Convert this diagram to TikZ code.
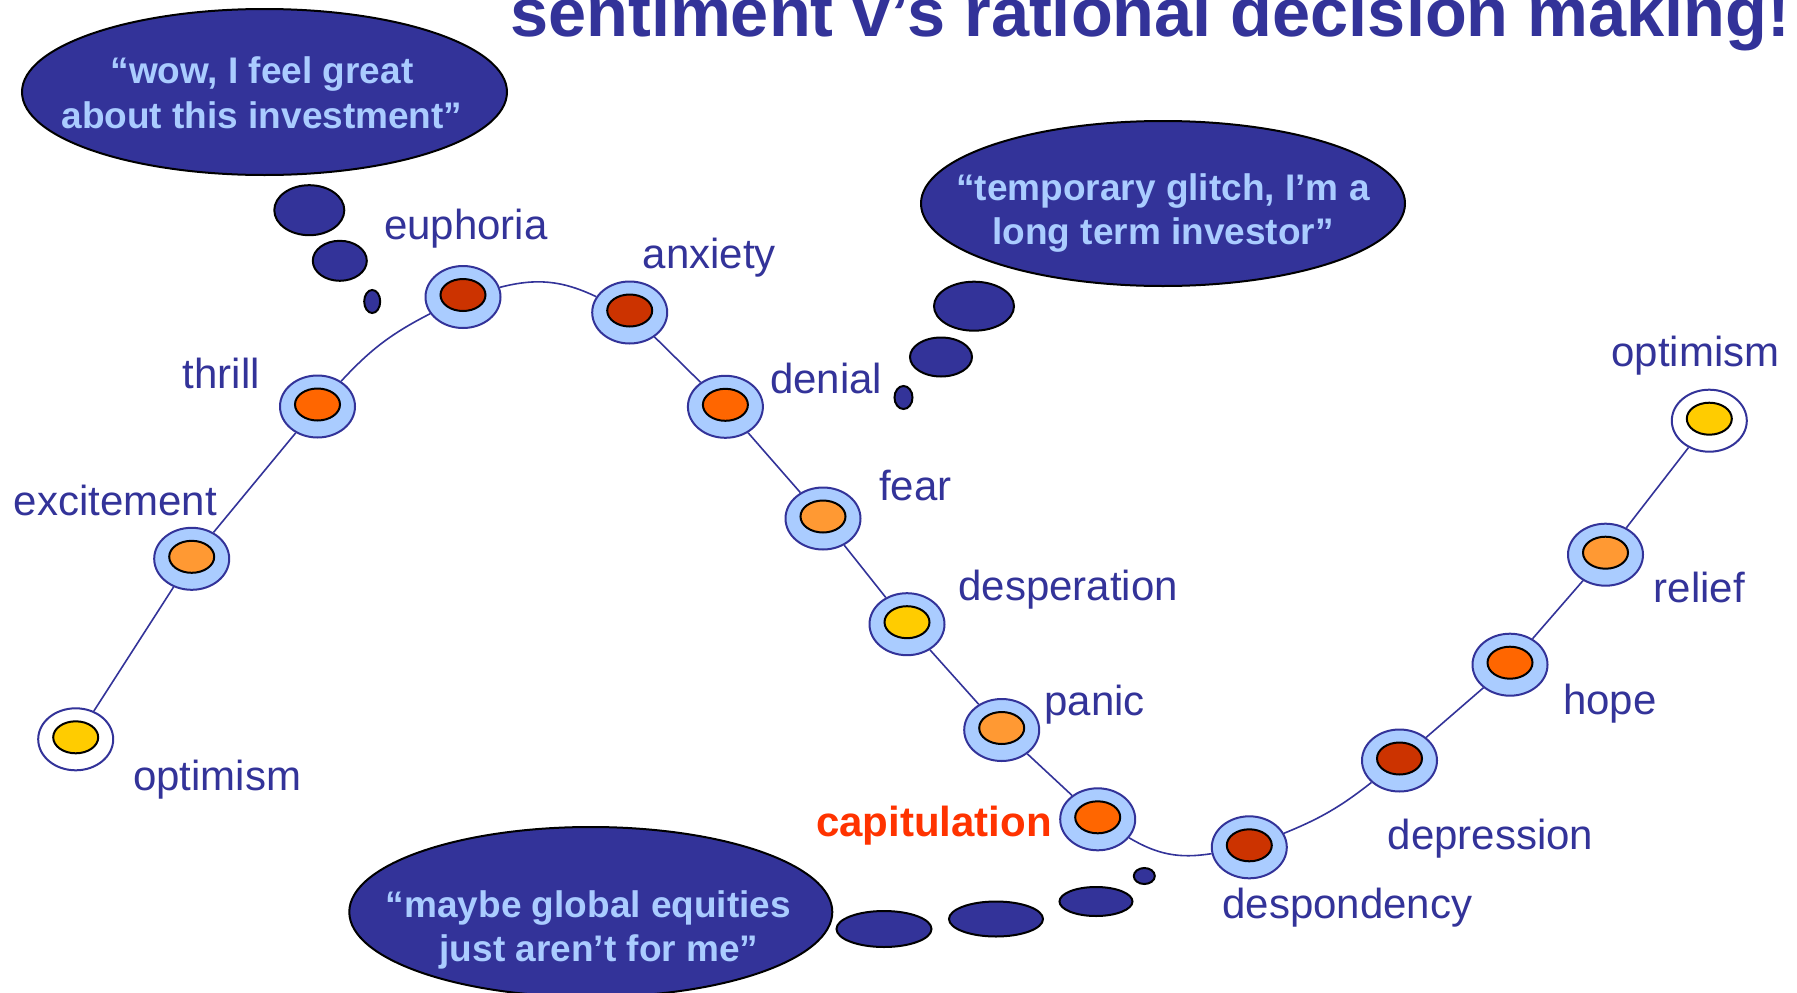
\documentclass[tikz,border=0pt]{standalone}
\usepackage{fontspec}
\setmainfont{Liberation Sans}
\usetikzlibrary{shapes.geometric}
\definecolor{navy}{HTML}{333399}
\definecolor{pale}{HTML}{AACCFF}
\definecolor{cdark}{HTML}{CC3300}
\definecolor{corange}{HTML}{FF6600}
\definecolor{clight}{HTML}{FF9933}
\definecolor{cyellow}{HTML}{FFCC00}
\definecolor{capred}{HTML}{FF3300}
\begin{document}
\begin{tikzpicture}[x=1pt,y=-1pt,
  outer/.style={ellipse, draw=navy, line width=2pt, fill=pale, minimum width=75pt, minimum height=62pt, inner sep=0pt},
  outerw/.style={outer, fill=white},
  core/.style={ellipse, draw=black, line width=2pt, minimum width=45pt, minimum height=32pt, inner sep=0pt},
  link/.style={draw=navy, line width=1.6pt},
  lab/.style={anchor=base west, inner sep=0pt, text=navy, font=\fontsize{42}{50}\selectfont},
  bubble/.style={ellipse, draw=black, line width=2pt, fill=navy, inner sep=0pt},
  say/.style={anchor=base, inner sep=0pt, text=pale, font=\fontsize{37}{44}\selectfont\bfseries},
]
\useasboundingbox[fill=white] (0,0) rectangle (1797,993);

% title
\node[anchor=base west, inner sep=0pt, text=navy, font=\fontsize{68.5}{80}\selectfont\bfseries] (title) at (510,36) {sentiment v’s rational decision making!};

% thought bubbles
\node[bubble, minimum width=485pt, minimum height=166pt] (b1) at (264.5,92) {};
\node[bubble, minimum width=70pt, minimum height=50pt] (b1a) at (309.3,210.2) {};
\node[bubble, minimum width=54pt, minimum height=40pt] (b1b) at (339.8,260.8) {};
\node[bubble, minimum width=16pt, minimum height=23pt] (b1c) at (372.2,301.5) {};
\node[say] (t1a) at (262,83.5) {“wow, I feel great};
\node[say] (t1b) at (262,128.5) {about this investment”};

\node[bubble, minimum width=484pt, minimum height=165pt] (b2) at (1163,203.5) {};
\node[bubble, minimum width=80pt, minimum height=49pt] (b2a) at (974,306.2) {};
\node[bubble, minimum width=62pt, minimum height=39pt] (b2b) at (941,357) {};
\node[bubble, minimum width=18pt, minimum height=23pt] (b2c) at (903.5,397.5) {};
\node[say] (t2a) at (1163,200.5) {“temporary glitch, I’m a};
\node[say] (t2b) at (1163,244) {long term investor”};

\node[bubble, minimum width=483pt, minimum height=170pt] (b3) at (590.8,912) {};
\node[bubble, minimum width=95pt, minimum height=36pt] (b3a) at (884,929) {};
\node[bubble, minimum width=94pt, minimum height=35pt] (b3b) at (996,919) {};
\node[bubble, minimum width=73pt, minimum height=29pt] (b3c) at (1096,901.5) {};
\node[bubble, minimum width=21pt, minimum height=16pt] (b3d) at (1144.3,876) {};
\node[say] (t3a) at (588.5,917.5) {“maybe global equities};
\node[say] (t3b) at (599,961) {just aren’t for me”};

% stages
\node[outerw] (s1) at (75.7,739.3) {};
\node[outer] (s2) at (191.7,558.8) {};
\node[outer] (s3) at (317.5,406.5) {};
\node[outer] (s4) at (463,297) {};
\node[outer] (s5) at (629.7,312.5) {};
\node[outer] (s6) at (725.4,406.8) {};
\node[outer] (s7) at (823,518.5) {};
\node[outer] (s8) at (907,624.2) {};
\node[outer] (s9) at (1001.7,730) {};
\node[outer] (s10) at (1097.7,819.3) {};
\node[outer] (s11) at (1249.3,847.3) {};
\node[outer] (s12) at (1399.5,760.5) {};
\node[outer] (s13) at (1510,664.7) {};
\node[outer] (s14) at (1605.5,554.7) {};
\node[outerw] (s15) at (1709.3,420.7) {};

\node[core, fill=cyellow] (c1) at ([yshift=2pt]s1.center) {};
\node[core, fill=clight] (c2) at ([yshift=2pt]s2.center) {};
\node[core, fill=corange] (c3) at ([yshift=2pt]s3.center) {};
\node[core, fill=cdark] (c4) at ([yshift=2pt]s4.center) {};
\node[core, fill=cdark] (c5) at ([yshift=2pt]s5.center) {};
\node[core, fill=corange] (c6) at ([yshift=2pt]s6.center) {};
\node[core, fill=clight] (c7) at ([yshift=2pt]s7.center) {};
\node[core, fill=cyellow] (c8) at ([yshift=2pt]s8.center) {};
\node[core, fill=clight] (c9) at ([yshift=2pt]s9.center) {};
\node[core, fill=corange] (c10) at ([yshift=2pt]s10.center) {};
\node[core, fill=cdark] (c11) at ([yshift=2pt]s11.center) {};
\node[core, fill=cdark] (c12) at ([yshift=2pt]s12.center) {};
\node[core, fill=corange] (c13) at ([yshift=2pt]s13.center) {};
\node[core, fill=clight] (c14) at ([yshift=2pt]s14.center) {};
\node[core, fill=cyellow] (c15) at ([yshift=2pt]s15.center) {};

% connectors
\draw[link] (s1) -- (s2);
\draw[link] (s2) -- (s3);
\draw[link] (s3) to[bend left=10] (s4);
\draw[link] (s4) to[bend left=20] (s5);
\draw[link] (s5) -- (s6);
\draw[link] (s6) -- (s7);
\draw[link] (s7) -- (s8);
\draw[link] (s8) -- (s9);
\draw[link] (s9) -- (s10);
\draw[link] (s10) to[bend right=20] (s11);
\draw[link] (s11) to[bend right=8] (s12);
\draw[link] (s12) -- (s13);
\draw[link] (s13) -- (s14);
\draw[link] (s14) -- (s15);

% labels
\node[lab] (l1) at (133,790) {optimism};
\node[lab] (l2) at (13.5,515.5) {excitement};
\node[lab] (l3) at (182.7,388) {thrill};
\node[lab] (l4) at (384,239) {euphoria};
\node[lab] (l5) at (642.5,268.7) {anxiety};
\node[lab] (l6) at (770,393) {denial};
\node[lab] (l7) at (879,500.3) {fear};
\node[lab] (l8) at (958.3,600.3) {desperation};
\node[lab] (l9) at (1044.3,715.3) {panic};
\node[lab, text=capred, font=\fontsize{42}{50}\selectfont\bfseries] (l10) at (816,836) {capitulation};
\node[lab] (l11) at (1222.3,918.7) {despondency};
\node[lab] (l12) at (1387.7,849.3) {depression};
\node[lab] (l13) at (1563,714.8) {hope};
\node[lab] (l14) at (1653.7,602.5) {relief};
\node[lab] (l15) at (1611.3,366.4) {optimism};
\end{tikzpicture}
\end{document}
